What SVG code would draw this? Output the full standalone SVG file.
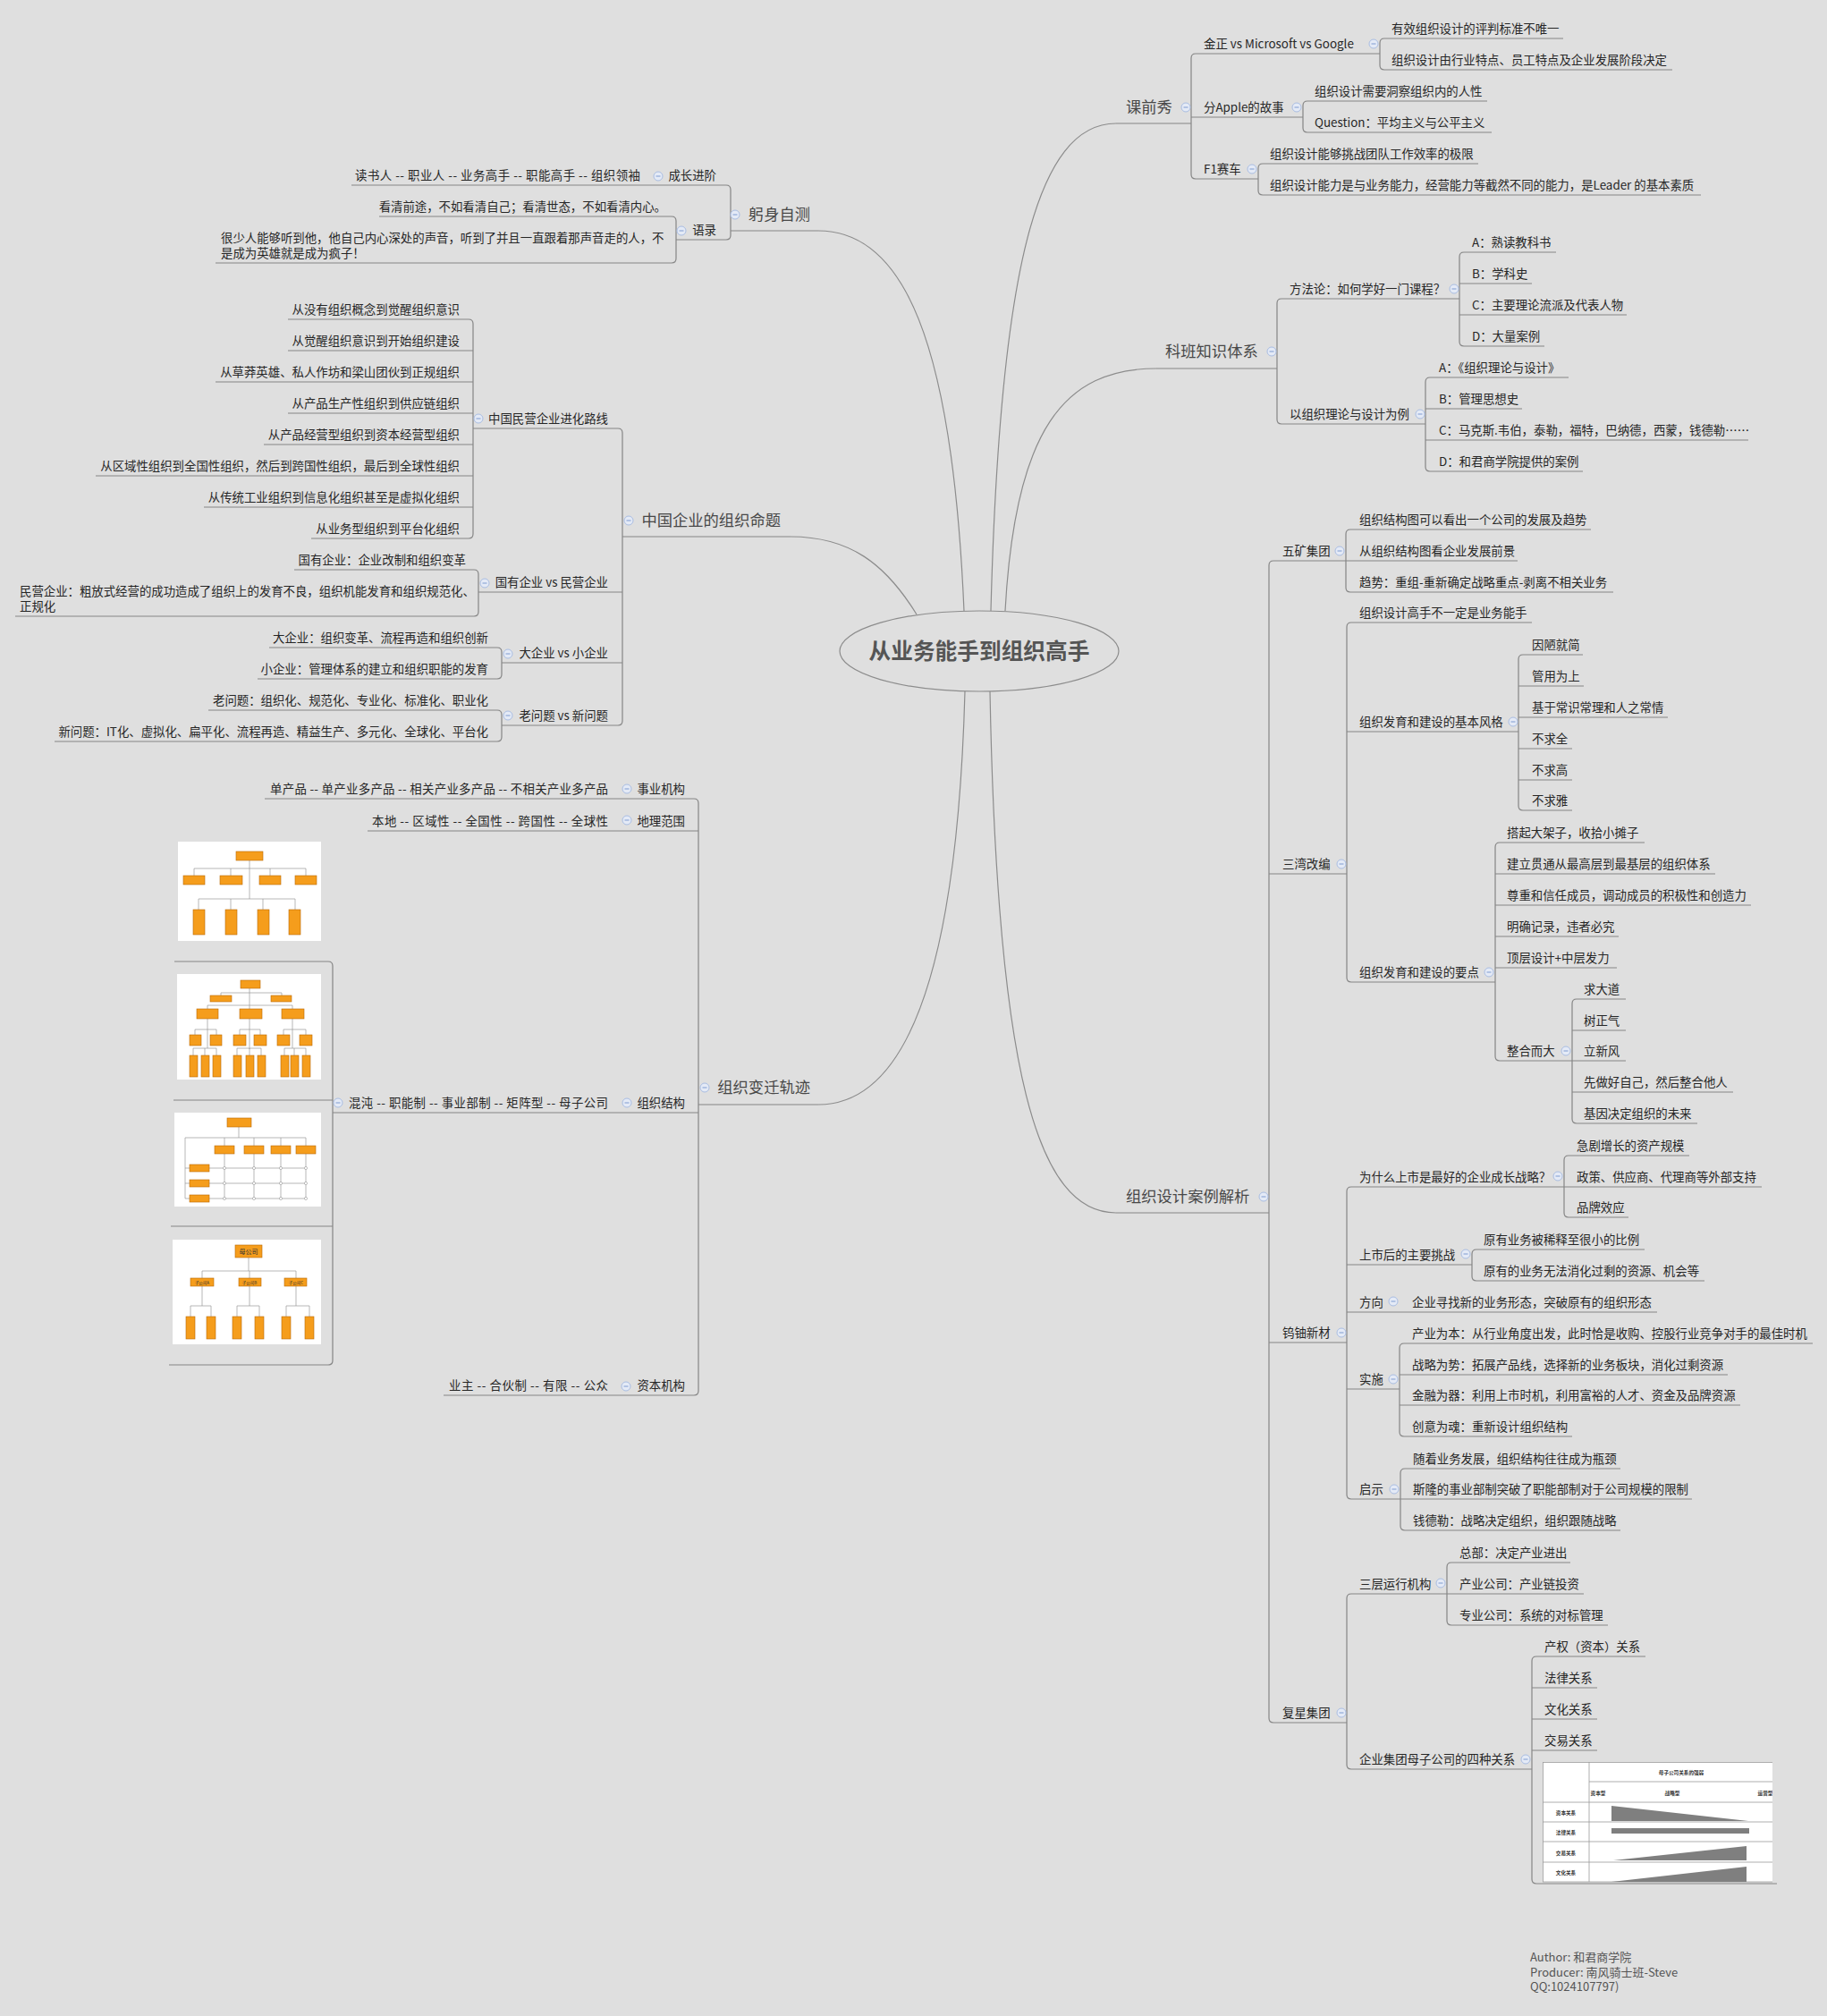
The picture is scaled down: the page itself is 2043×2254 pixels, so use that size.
<svg xmlns="http://www.w3.org/2000/svg" xmlns:xlink="http://www.w3.org/1999/xlink" width="2043" height="2254" viewBox="0 0 2043 2254">
<style>
text{font-family:"Noto Sans CJK SC","Noto Sans",sans-serif}
.t{font-size:13.4px;fill:#262626}
.e{text-anchor:end}
.h{font-size:17.3px;fill:#484848}
.ttl{font-size:24.7px;font-weight:bold;fill:#555;text-anchor:middle}
.ln{fill:none;stroke:#858585;stroke-width:1.2}
.cv{fill:none;stroke:#8c8c8c;stroke-width:1.2}
.ob{fill:#f59d1c;stroke:#b86a08;stroke-width:0.6}
.il{fill:none;stroke:#9a9a9a;stroke-width:0.7}
.tl{fill:none;stroke:#999;stroke-width:0.8}
.tt{font-size:5.6px;font-weight:bold;fill:#333;text-anchor:middle}
.au{font-size:13px;fill:#555}
</style>
<defs>
<g id="cc"><circle r="5" fill="#e4eaf6" stroke="#a9bde2" stroke-width="1"/><path d="M-2.5 0H2.5" stroke="#7f9bd0" stroke-width="1"/></g>
<clipPath id="tclip"><rect x="1725" y="1970" width="257" height="135"/></clipPath>
</defs>
<rect width="2043" height="2254" fill="#dfdfdf"/>

<g id="connectors">
<path class="cv" d="M1078 683C1065 380 1010 258 915 258"/>
<path class="cv" d="M1108 683C1118 300 1160 138 1248 138"/>
<path class="cv" d="M1124 683C1135 480 1190 412 1293 412"/>
<path class="cv" d="M1025 687C990 630 950 600 884 600"/>
<path class="cv" d="M1079 773C1070 1100 1010 1235 915 1235"/>
<path class="cv" d="M1107 773C1115 1200 1160 1356 1248 1356"/>
<path class="ln" d="M1248 138H1332M1543 60H1337Q1332 60 1332 65V195Q1332 200 1337 200H1407M1332 131H1457"/>
<path class="ln" d="M1748 43H1548Q1543 43 1543 48V73Q1543 78 1548 78H1870"/>
<path class="ln" d="M1663 113H1462Q1457 113 1457 118V143Q1457 148 1462 148H1668"/>
<path class="ln" d="M1653 183H1412Q1407 183 1407 188V213Q1407 218 1412 218H1902"/>
<path class="ln" d="M1293 412H1428M1632 334H1433Q1428 334 1428 339V469Q1428 474 1433 474H1594"/>
<path class="ln" d="M1740 282H1637Q1632 282 1632 287V382Q1632 387 1637 387H1727M1632 317H1713M1632 352H1819"/>
<path class="ln" d="M1754 422H1599Q1594 422 1594 427V522Q1594 527 1599 527H1770M1594 457H1702M1594 492H1955"/>
<path class="ln" d="M1248 1356H1419M1505 627H1424Q1419 627 1419 632V1921Q1419 1926 1424 1926H1506M1419 977H1506M1419 1501H1506"/>
<path class="ln" d="M1779 592H1510Q1505 592 1505 597V657Q1505 662 1510 662H1804M1505 627H1697"/>
<path class="ln" d="M1713 696H1511Q1506 696 1506 701V1093Q1506 1098 1511 1098H1672M1506 818H1698"/>
<path class="ln" d="M1770 732H1703Q1698 732 1698 737V901Q1698 906 1703 906H1758M1698 767H1771M1698 802H1865M1698 837H1758M1698 872H1758"/>
<path class="ln" d="M1839 942H1677Q1672 942 1672 947V1181Q1672 1186 1677 1186H1758M1672 977H1918M1672 1012H1958M1672 1047H1810M1672 1082H1808"/>
<path class="ln" d="M1818 1117H1763Q1758 1117 1758 1122V1251Q1758 1256 1763 1256H1898M1758 1152H1818M1758 1186H1818M1758 1221H1938"/>
<path class="ln" d="M1749 1327H1511Q1506 1327 1506 1332V1671Q1506 1676 1511 1676H1566M1506 1414H1646M1506 1467H1853M1506 1553H1565"/>
<path class="ln" d="M1889 1292H1754Q1749 1292 1749 1297V1356Q1749 1361 1754 1361H1821M1749 1327H1970"/>
<path class="ln" d="M1839 1397H1651Q1646 1397 1646 1402V1427Q1646 1432 1651 1432H1906"/>
<path class="ln" d="M2027 1502H1570Q1565 1502 1565 1507V1601Q1565 1606 1570 1606H1758M1565 1537H1932M1565 1571H1946"/>
<path class="ln" d="M1812 1642H1571Q1566 1642 1566 1647V1706Q1566 1711 1571 1711H1812M1566 1676H1892"/>
<path class="ln" d="M1618 1782H1511Q1506 1782 1506 1787V1973Q1506 1978 1511 1978H1713"/>
<path class="ln" d="M1756 1747H1623Q1618 1747 1618 1752V1812Q1618 1817 1623 1817H1798M1618 1782H1771"/>
<path class="ln" d="M1840 1852H1718Q1713 1852 1713 1857V2101Q1713 2106 1718 2106H1987M1713 1887H1786M1713 1922H1786M1713 1957H1786"/>
<path class="ln" d="M915 258H817M393 207H812Q817 207 817 212V263Q817 268 812 268H756"/>
<path class="ln" d="M424 242H751Q756 242 756 247V289Q756 294 751 294H241"/>
<path class="ln" d="M884 600H696M529 479H691Q696 479 696 484V806Q696 811 691 811H561M696 662H535M696 741H561"/>
<path class="ln" d="M322 357H524Q529 357 529 362V597Q529 602 524 602H348M529 392H322M529 427H241M529 462H322M529 497H295M529 532H107M529 567H228"/>
<path class="ln" d="M329 637H530Q535 637 535 642V684Q535 689 530 689H17"/>
<path class="ln" d="M301 724H556Q561 724 561 729V754Q561 759 556 759H288"/>
<path class="ln" d="M233 794H556Q561 794 561 799V824Q561 829 556 829H61"/>
<path class="ln" d="M915 1235H781M296 893H776Q781 893 781 898V1555Q781 1560 776 1560H496M781 929H411M781 1244H372"/>
<path class="ln" d="M195 1075H367Q372 1075 372 1080V1521Q372 1526 367 1526H189M372 1230H194M372 1371H191"/>
</g>

<g id="center">
<ellipse cx="1095" cy="728" rx="156" ry="45" fill="#dfdfdf" stroke="#8c8c8c" stroke-width="1.2"/>
<text class="ttl" x="1095" y="737">从业务能手到组织高手</text>
</g>

<g id="n-kqx"><text class="h" x="1259" y="126">课前秀</text><use href="#cc" x="1326" y="120"/></g>
<g id="n-jz"><text class="t" x="1346" y="54">金正 vs Microsoft vs Google</text><use href="#cc" x="1536" y="49"/></g>
<g id="n-jz1"><text class="t" x="1556" y="37">有效组织设计的评判标准不唯一</text></g>
<g id="n-jz2"><text class="t" x="1556" y="72">组织设计由行业特点、员工特点及企业发展阶段决定</text></g>
<g id="n-ap"><text class="t" x="1346" y="125">分Apple的故事</text><use href="#cc" x="1450" y="120"/></g>
<g id="n-ap1"><text class="t" x="1470" y="107">组织设计需要洞察组织内的人性</text></g>
<g id="n-ap2"><text class="t" x="1470" y="142">Question：平均主义与公平主义</text></g>
<g id="n-f1"><text class="t" x="1346" y="194">F1赛车</text><use href="#cc" x="1400" y="189"/></g>
<g id="n-f11"><text class="t" x="1420" y="177">组织设计能够挑战团队工作效率的极限</text></g>
<g id="n-f12"><text class="t" x="1420" y="212">组织设计能力是与业务能力，经营能力等截然不同的能力，是Leader 的基本素质</text></g>

<g id="n-kb"><text class="h" x="1303" y="399">科班知识体系</text><use href="#cc" x="1422" y="393"/></g>
<g id="n-ff"><text class="t" x="1442" y="328">方法论：如何学好一门课程？</text><use href="#cc" x="1626" y="323"/></g>
<g id="n-ff1"><text class="t" x="1646" y="276">A：熟读教科书</text></g>
<g id="n-ff2"><text class="t" x="1646" y="311">B：学科史</text></g>
<g id="n-ff3"><text class="t" x="1646" y="346">C：主要理论流派及代表人物</text></g>
<g id="n-ff4"><text class="t" x="1646" y="381">D：大量案例</text></g>
<g id="n-yz"><text class="t" x="1442" y="468">以组织理论与设计为例</text><use href="#cc" x="1588" y="463"/></g>
<g id="n-yz1"><text class="t" x="1609" y="416">A：《组织理论与设计》</text></g>
<g id="n-yz2"><text class="t" x="1609" y="451">B：管理思想史</text></g>
<g id="n-yz3"><text class="t" x="1609" y="486">C：马克斯.韦伯，泰勒，福特，巴纳德，西蒙，钱德勒……</text></g>
<g id="n-yz4"><text class="t" x="1609" y="521">D：和君商学院提供的案例</text></g>

<g id="n-al"><text class="h" x="1259" y="1344">组织设计案例解析</text><use href="#cc" x="1413" y="1338"/></g>
<g id="n-wk"><text class="t" x="1434" y="621">五矿集团</text><use href="#cc" x="1498" y="616"/></g>
<g id="n-wk1"><text class="t" x="1520" y="586">组织结构图可以看出一个公司的发展及趋势</text></g>
<g id="n-wk2"><text class="t" x="1520" y="621">从组织结构图看企业发展前景</text></g>
<g id="n-wk3"><text class="t" x="1520" y="656">趋势：重组-重新确定战略重点-剥离不相关业务</text></g>
<g id="n-sw"><text class="t" x="1434" y="971">三湾改编</text><use href="#cc" x="1500" y="966"/></g>
<g id="n-sw1"><text class="t" x="1520" y="690">组织设计高手不一定是业务能手</text></g>
<g id="n-fg"><text class="t" x="1520" y="812">组织发育和建设的基本风格</text><use href="#cc" x="1692" y="807"/></g>
<g id="n-fg1"><text class="t" x="1713" y="726">因陋就简</text></g>
<g id="n-fg2"><text class="t" x="1713" y="761">管用为上</text></g>
<g id="n-fg3"><text class="t" x="1713" y="796">基于常识常理和人之常情</text></g>
<g id="n-fg4"><text class="t" x="1713" y="831">不求全</text></g>
<g id="n-fg5"><text class="t" x="1713" y="866">不求高</text></g>
<g id="n-fg6"><text class="t" x="1713" y="900">不求雅</text></g>
<g id="n-yd"><text class="t" x="1520" y="1092">组织发育和建设的要点</text><use href="#cc" x="1665" y="1087"/></g>
<g id="n-yd1"><text class="t" x="1685" y="936">搭起大架子，收拾小摊子</text></g>
<g id="n-yd2"><text class="t" x="1685" y="971">建立贯通从最高层到最基层的组织体系</text></g>
<g id="n-yd3"><text class="t" x="1685" y="1006">尊重和信任成员，调动成员的积极性和创造力</text></g>
<g id="n-yd4"><text class="t" x="1685" y="1041">明确记录，违者必究</text></g>
<g id="n-yd5"><text class="t" x="1685" y="1076">顶层设计+中层发力</text></g>
<g id="n-zh"><text class="t" x="1685" y="1180">整合而大</text><use href="#cc" x="1751" y="1175"/></g>
<g id="n-zh1"><text class="t" x="1771" y="1111">求大道</text></g>
<g id="n-zh2"><text class="t" x="1771" y="1146">树正气</text></g>
<g id="n-zh3"><text class="t" x="1771" y="1180">立新风</text></g>
<g id="n-zh4"><text class="t" x="1771" y="1215">先做好自己，然后整合他人</text></g>
<g id="n-zh5"><text class="t" x="1771" y="1250">基因决定组织的未来</text></g>
<g id="n-wy"><text class="t" x="1434" y="1495">钨铀新材</text><use href="#cc" x="1500" y="1490"/></g>
<g id="n-ss"><text class="t" x="1520" y="1321">为什么上市是最好的企业成长战略？</text><use href="#cc" x="1742" y="1315"/></g>
<g id="n-ss1"><text class="t" x="1763" y="1286">急剧增长的资产规模</text></g>
<g id="n-ss2"><text class="t" x="1763" y="1321">政策、供应商、代理商等外部支持</text></g>
<g id="n-ss3"><text class="t" x="1763" y="1355">品牌效应</text></g>
<g id="n-tz"><text class="t" x="1520" y="1408">上市后的主要挑战</text><use href="#cc" x="1639" y="1402"/></g>
<g id="n-tz1"><text class="t" x="1659" y="1391">原有业务被稀释至很小的比例</text></g>
<g id="n-tz2"><text class="t" x="1659" y="1426">原有的业务无法消化过剩的资源、机会等</text></g>
<g id="n-fx"><text class="t" x="1520" y="1461">方向</text><use href="#cc" x="1558" y="1455"/></g>
<g id="n-fx1"><text class="t" x="1579" y="1461">企业寻找新的业务形态，突破原有的组织形态</text></g>
<g id="n-ssh"><text class="t" x="1520" y="1547">实施</text><use href="#cc" x="1558" y="1542"/></g>
<g id="n-ssh1"><text class="t" x="1579" y="1496">产业为本：从行业角度出发，此时恰是收购、控股行业竞争对手的最佳时机</text></g>
<g id="n-ssh2"><text class="t" x="1579" y="1531">战略为势：拓展产品线，选择新的业务板块，消化过剩资源</text></g>
<g id="n-ssh3"><text class="t" x="1579" y="1565">金融为器：利用上市时机，利用富裕的人才、资金及品牌资源</text></g>
<g id="n-ssh4"><text class="t" x="1579" y="1600">创意为魂：重新设计组织结构</text></g>
<g id="n-qs"><text class="t" x="1520" y="1670">启示</text><use href="#cc" x="1559" y="1665"/></g>
<g id="n-qs1"><text class="t" x="1580" y="1636">随着业务发展，组织结构往往成为瓶颈</text></g>
<g id="n-qs2"><text class="t" x="1580" y="1670">斯隆的事业部制突破了职能部制对于公司规模的限制</text></g>
<g id="n-qs3"><text class="t" x="1580" y="1705">钱德勒：战略决定组织，组织跟随战略</text></g>
<g id="n-fxg"><text class="t" x="1434" y="1920">复星集团</text><use href="#cc" x="1500" y="1915"/></g>
<g id="n-sc"><text class="t" x="1520" y="1776">三层运行机构</text><use href="#cc" x="1611" y="1770"/></g>
<g id="n-sc1"><text class="t" x="1632" y="1741">总部：决定产业进出</text></g>
<g id="n-sc2"><text class="t" x="1632" y="1776">产业公司：产业链投资</text></g>
<g id="n-sc3"><text class="t" x="1632" y="1811">专业公司：系统的对标管理</text></g>
<g id="n-mz"><text class="t" x="1520" y="1972">企业集团母子公司的四种关系</text><use href="#cc" x="1706" y="1967"/></g>
<g id="n-mz1"><text class="t" x="1727" y="1846">产权（资本）关系</text></g>
<g id="n-mz2"><text class="t" x="1727" y="1881">法律关系</text></g>
<g id="n-mz3"><text class="t" x="1727" y="1916">文化关系</text></g>
<g id="n-mz4"><text class="t" x="1727" y="1951">交易关系</text></g>
<g id="n-mz5" clip-path="url(#tclip)">
<rect x="1725" y="1970" width="262" height="134" fill="#fff"/>
<path class="tl" d="M1725 1970.5H1987M1725.5 1970V2104M1777 1970V2104M1777 1992H1987M1725 2015H1987M1725 2037H1987M1725 2059H1987M1725 2082H1987M1725 2104H1987"/>
<text class="tt" x="1880" y="1984">母子公司关系的强弱</text>
<text class="tt" x="1787" y="2007">资本型</text>
<text class="tt" x="1870" y="2007">战略型</text>
<text class="tt" x="1974" y="2007">运营型</text>
<text class="tt" x="1751" y="2029">资本关系</text>
<text class="tt" x="1751" y="2051">法律关系</text>
<text class="tt" x="1751" y="2074">交易关系</text>
<text class="tt" x="1751" y="2096">文化关系</text>
<path d="M1802 2019L1955 2036H1802Z" fill="#7f7f7f"/>
<rect x="1802" y="2044" width="154" height="6" fill="#7f7f7f"/>
<path d="M1804 2080L1953 2064V2080Z" fill="#7f7f7f"/>
<path d="M1802 2104L1953 2087V2104Z" fill="#7f7f7f"/>
</g>

<g id="n-gs"><text class="h e" x="906" y="246">躬身自测</text><use href="#cc" x="822" y="240"/></g>
<g id="n-cz"><text class="t e" x="801" y="201">成长进阶</text><use href="#cc" x="736" y="197"/></g>
<g id="n-cz1"><text class="t e" x="716" y="201" textLength="319" lengthAdjust="spacing">读书人 -- 职业人 -- 业务高手 -- 职能高手 -- 组织领袖</text></g>
<g id="n-yl"><text class="t e" x="801" y="262">语录</text><use href="#cc" x="762" y="258"/></g>
<g id="n-yl1"><text class="t e" x="745" y="236">看清前途，不如看清自己；看清世态，不如看清内心。</text></g>
<g id="n-yl2"><text class="t" x="247" y="271">很少人能够听到他，他自己内心深处的声音，听到了并且一直跟着那声音走的人，不</text><text class="t" x="247" y="288">是成为英雄就是成为疯子！</text></g>

<g id="n-zg"><text class="h e" x="873" y="588">中国企业的组织命题</text><use href="#cc" x="703" y="582"/></g>
<g id="n-my"><text class="t e" x="680" y="473">中国民营企业进化路线</text><use href="#cc" x="535" y="468"/></g>
<g id="n-my1"><text class="t e" x="514" y="351">从没有组织概念到觉醒组织意识</text></g>
<g id="n-my2"><text class="t e" x="514" y="386">从觉醒组织意识到开始组织建设</text></g>
<g id="n-my3"><text class="t e" x="514" y="421">从草莽英雄、私人作坊和梁山团伙到正规组织</text></g>
<g id="n-my4"><text class="t e" x="514" y="456">从产品生产性组织到供应链组织</text></g>
<g id="n-my5"><text class="t e" x="514" y="491">从产品经营型组织到资本经营型组织</text></g>
<g id="n-my6"><text class="t e" x="514" y="526">从区域性组织到全国性组织，然后到跨国性组织，最后到全球性组织</text></g>
<g id="n-my7"><text class="t e" x="514" y="561">从传统工业组织到信息化组织甚至是虚拟化组织</text></g>
<g id="n-my8"><text class="t e" x="514" y="596">从业务型组织到平台化组织</text></g>
<g id="n-gy"><text class="t e" x="680" y="656">国有企业 vs 民营企业</text><use href="#cc" x="542" y="652"/></g>
<g id="n-gy1"><text class="t e" x="521" y="631">国有企业：企业改制和组织变革</text></g>
<g id="n-gy2"><text class="t" x="22" y="666">民营企业：粗放式经营的成功造成了组织上的发育不良，组织机能发育和组织规范化、</text><text class="t" x="22" y="683">正规化</text></g>
<g id="n-dq"><text class="t e" x="680" y="735">大企业 vs 小企业</text><use href="#cc" x="568" y="731"/></g>
<g id="n-dq1"><text class="t e" x="546" y="718">大企业：组织变革、流程再造和组织创新</text></g>
<g id="n-dq2"><text class="t e" x="546" y="753">小企业：管理体系的建立和组织职能的发育</text></g>
<g id="n-lw"><text class="t e" x="680" y="805">老问题 vs 新问题</text><use href="#cc" x="568" y="800"/></g>
<g id="n-lw1"><text class="t e" x="546" y="788">老问题：组织化、规范化、专业化、标准化、职业化</text></g>
<g id="n-lw2"><text class="t e" x="546" y="823">新问题：IT化、虚拟化、扁平化、流程再造、精益生产、多元化、全球化、平台化</text></g>

<g id="n-bq"><text class="h e" x="906" y="1222">组织变迁轨迹</text><use href="#cc" x="788" y="1216"/></g>
<g id="n-sy"><text class="t e" x="766" y="887">事业机构</text><use href="#cc" x="701" y="882"/></g>
<g id="n-sy1"><text class="t e" x="680" y="887" textLength="378" lengthAdjust="spacing">单产品 -- 单产业多产品 -- 相关产业多产品 -- 不相关产业多产品</text></g>
<g id="n-dl"><text class="t e" x="766" y="923">地理范围</text><use href="#cc" x="701" y="917"/></g>
<g id="n-dl1"><text class="t e" x="680" y="923" textLength="264" lengthAdjust="spacing">本地 -- 区域性 -- 全国性 -- 跨国性 -- 全球性</text></g>
<g id="n-zz"><text class="t e" x="766" y="1238">组织结构</text><use href="#cc" x="701" y="1233"/></g>
<g id="n-zz1"><text class="t e" x="680" y="1238" textLength="290" lengthAdjust="spacing">混沌 -- 职能制 -- 事业部制 -- 矩阵型 -- 母子公司</text><use href="#cc" x="378" y="1233"/></g>
<g id="n-zb"><text class="t e" x="766" y="1554">资本机构</text><use href="#cc" x="700" y="1550"/></g>
<g id="n-zb1"><text class="t e" x="680" y="1554" textLength="178" lengthAdjust="spacing">业主 -- 合伙制 -- 有限 -- 公众</text></g>

<g id="n-img1">
<rect x="199" y="941" width="160" height="111" fill="#fff"/>
<path class="il" d="M279 962V1005M217 971H342M217 971V979M258 971V979M302 971V979M342 971V979M222 1005H330M222 1005V1017M258 1005V1017M294 1005V1017M330 1005V1017"/>
<rect class="ob" x="264" y="952" width="30" height="10"/>
<rect class="ob" x="205" y="979" width="24" height="10"/><rect class="ob" x="246" y="979" width="25" height="10"/><rect class="ob" x="290" y="979" width="24" height="10"/><rect class="ob" x="330" y="979" width="24" height="10"/>
<rect class="ob" x="216" y="1017" width="13" height="28"/><rect class="ob" x="252" y="1017" width="13" height="28"/><rect class="ob" x="288" y="1017" width="13" height="28"/><rect class="ob" x="323" y="1017" width="13" height="28"/>
</g>
<g id="n-img2">
<rect x="198" y="1089" width="161" height="118" fill="#fff"/>
<path class="il" d="M279 1105V1173M247 1110H315M247 1110V1113M315 1110V1113M232 1124H327M232 1124V1128M327 1124V1128M232 1139V1172M218 1151H242M218 1151V1157M242 1151V1157M216 1172H242M216 1172V1180M229 1172V1180M242 1172V1180M268 1151H291M268 1151V1157M291 1151V1157M265 1172H292M265 1172V1180M279 1172V1180M292 1172V1180M327 1139V1172M317 1151H342M317 1151V1157M342 1151V1157M318 1172H342M318 1172V1180M329 1172V1180M342 1172V1180"/>
<rect class="ob" x="269" y="1096" width="22" height="9"/>
<rect class="ob" x="235" y="1113" width="24" height="7"/><rect class="ob" x="303" y="1113" width="23" height="7"/>
<rect class="ob" x="220" y="1128" width="24" height="11"/><rect class="ob" x="268" y="1128" width="25" height="11"/><rect class="ob" x="315" y="1128" width="25" height="11"/>
<rect class="ob" x="212" y="1157" width="13" height="12"/><rect class="ob" x="235" y="1157" width="13" height="12"/><rect class="ob" x="261" y="1157" width="14" height="12"/><rect class="ob" x="284" y="1157" width="14" height="12"/><rect class="ob" x="310" y="1157" width="14" height="12"/><rect class="ob" x="335" y="1157" width="14" height="12"/>
<rect class="ob" x="212" y="1180" width="9" height="24"/><rect class="ob" x="225" y="1180" width="9" height="24"/><rect class="ob" x="238" y="1180" width="9" height="24"/><rect class="ob" x="261" y="1180" width="9" height="24"/><rect class="ob" x="275" y="1180" width="9" height="24"/><rect class="ob" x="288" y="1180" width="9" height="24"/><rect class="ob" x="314" y="1180" width="9" height="24"/><rect class="ob" x="325" y="1180" width="9" height="24"/><rect class="ob" x="338" y="1180" width="9" height="24"/>
</g>
<g id="n-img3">
<rect x="195" y="1244" width="164" height="105" fill="#fff"/>
<path class="il" d="M267 1260V1272M207 1272H342M251 1272V1281M284 1272V1281M314 1272V1281M342 1272V1281M207 1272V1340M207 1306H212M207 1323H212M207 1340H212M234 1306H343M234 1323H343M234 1340H343M251 1290V1340M284 1290V1340M314 1290V1340M342 1290V1340"/>
<rect class="ob" x="254" y="1250" width="27" height="10"/>
<rect class="ob" x="240" y="1281" width="22" height="9"/><rect class="ob" x="273" y="1281" width="22" height="9"/><rect class="ob" x="303" y="1281" width="22" height="9"/><rect class="ob" x="331" y="1281" width="22" height="9"/>
<rect class="ob" x="212" y="1302" width="22" height="8"/><rect class="ob" x="212" y="1319" width="22" height="8"/><rect class="ob" x="212" y="1336" width="22" height="8"/>
<g fill="#fff" stroke="#999" stroke-width="0.6"><circle cx="251" cy="1306" r="1.6"/><circle cx="284" cy="1306" r="1.6"/><circle cx="314" cy="1306" r="1.6"/><circle cx="342" cy="1306" r="1.6"/><circle cx="251" cy="1323" r="1.6"/><circle cx="284" cy="1323" r="1.6"/><circle cx="314" cy="1323" r="1.6"/><circle cx="342" cy="1323" r="1.6"/><circle cx="251" cy="1340" r="1.6"/><circle cx="284" cy="1340" r="1.6"/><circle cx="314" cy="1340" r="1.6"/><circle cx="342" cy="1340" r="1.6"/></g>
</g>
<g id="n-img4">
<rect x="193" y="1386" width="166" height="117" fill="#fff"/>
<path class="il" d="M278 1406V1421M226 1421H331M226 1421V1429M279 1421V1429M331 1421V1429M226 1438V1460M213 1460H236M213 1460V1472M236 1460V1472M279 1438V1460M265 1460H290M265 1460V1472M290 1460V1472M331 1438V1460M320 1460H346M320 1460V1472M346 1460V1472"/>
<rect class="ob" x="263" y="1392" width="30" height="14"/>
<rect class="ob" x="213" y="1429" width="26" height="9"/><rect class="ob" x="267" y="1429" width="25" height="9"/><rect class="ob" x="318" y="1429" width="25" height="9"/>
<rect class="ob" x="208" y="1472" width="10" height="25"/><rect class="ob" x="231" y="1472" width="10" height="25"/><rect class="ob" x="260" y="1472" width="10" height="25"/><rect class="ob" x="285" y="1472" width="10" height="25"/><rect class="ob" x="315" y="1472" width="10" height="25"/><rect class="ob" x="341" y="1472" width="10" height="25"/>
<text x="278" y="1402" font-size="7" fill="#333" text-anchor="middle">母公司</text>
<text x="226" y="1436" font-size="4.5" fill="#333" text-anchor="middle">子公司A</text>
<text x="279" y="1436" font-size="4.5" fill="#333" text-anchor="middle">子公司B</text>
<text x="331" y="1436" font-size="4.5" fill="#333" text-anchor="middle">子公司C</text>
</g>

<g id="author">
<text class="au" x="1711" y="2193">Author: 和君商学院</text>
<text class="au" x="1711" y="2210">Producer: 南风骑士班-Steve</text>
<text class="au" x="1711" y="2226">QQ:1024107797)</text>
</g>
</svg>
